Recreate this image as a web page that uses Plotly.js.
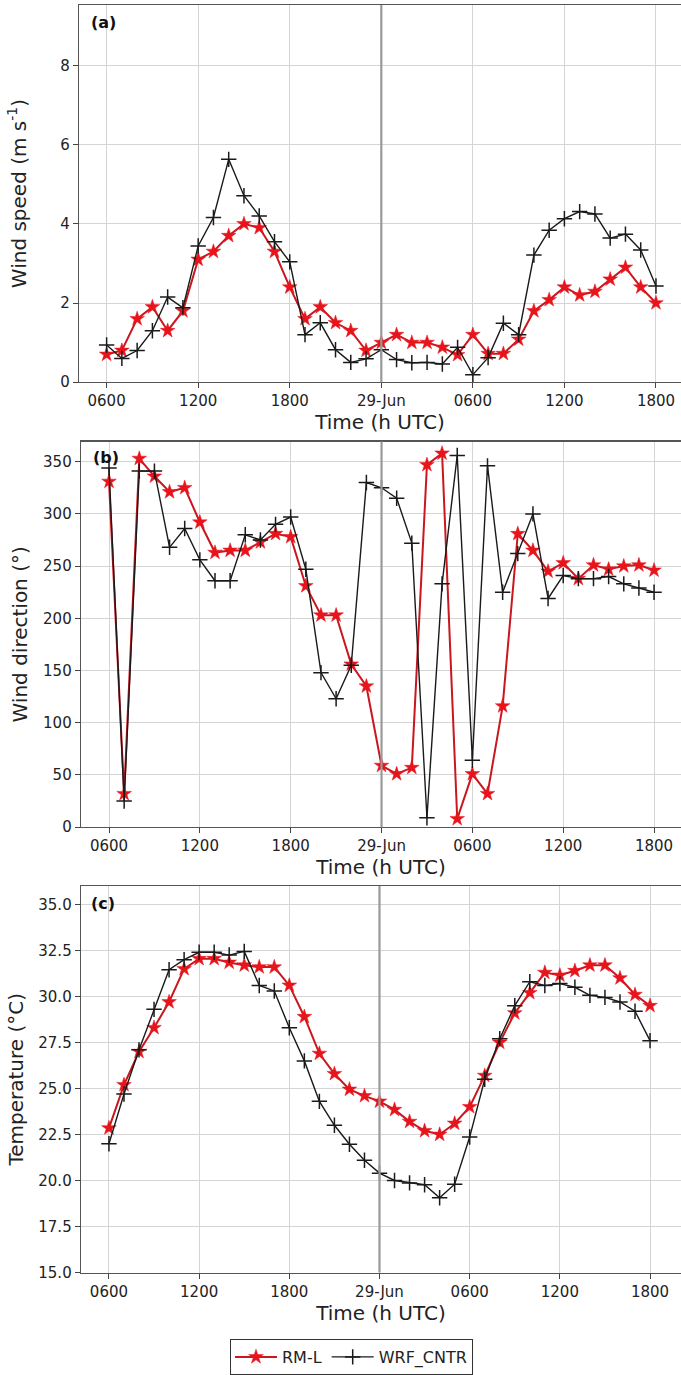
<!DOCTYPE html>
<html>
<head>
<meta charset="utf-8">
<script src="https://cdn.plot.ly/plotly-3.0.1.min.js"></script>
<style>html,body{margin:0;padding:0;background:#fff;}#chart{width:681px;height:1375px;}</style>
</head>
<body>
<div id="chart"></div>
<script>
// Hours since 28-Jun 00 UTC (hourly, 0600 28-Jun to 1800 29-Jun)
const hours = [6,7,8,9,10,11,12,13,14,15,16,17,18,19,20,21,22,23,24,25,26,27,28,29,30,31,32,33,34,35,36,37,38,39,40,41,42];
const tickVals = [6,12,18,24,30,36,42];
const tickText = ["0600","1200","1800","29-Jun","0600","1200","1800"];
const dayBoundary = 24;

// (a) Wind speed (m s-1)
const speedRML = [0.7,0.8,1.6,1.9,1.3,1.8,3.1,3.3,3.7,4.0,3.9,3.3,2.4,1.6,1.9,1.5,1.3,0.8,1.0,1.2,1.0,1.0,0.88,0.69,1.2,0.72,0.72,1.08,1.8,2.08,2.4,2.2,2.29,2.6,2.9,2.4,2.0];
const speedWRF = [0.94,0.6,0.8,1.3,2.15,1.88,3.44,4.16,5.63,4.71,4.2,3.55,3.04,1.2,1.5,0.82,0.5,0.59,0.82,0.57,0.49,0.5,0.46,0.88,0.19,0.62,1.49,1.2,3.21,3.84,4.13,4.31,4.25,3.64,3.74,3.34,2.43];

// (b) Wind direction (deg)
const dirRML = [331,32,353,336,321,325,292,263,265,265,273,281,278,231,203,203,156,135,59,51,57,347,358,8,51,32,116,281,265,245,253,238,251,247,250,251,246];
const dirWRF = [344,25,341,341,268,286,256,236,236,280,275,290,297,247,148,123,155,330,325,315,272,9,233,356,64,346,225,262,300,219,241,238,238,240,233,229,225];

// (c) Temperature (deg C)
const tempRML = [22.85,25.2,27.0,28.3,29.7,31.5,32.05,32.05,31.85,31.7,31.6,31.6,30.6,28.9,26.9,25.8,24.95,24.6,24.3,23.85,23.2,22.7,22.5,23.1,24.0,25.7,27.5,29.1,30.2,31.3,31.15,31.4,31.7,31.7,31.0,30.1,29.5];
const tempWRF = [22.0,24.7,27.1,29.3,31.45,32.0,32.4,32.4,32.25,32.45,30.6,30.3,28.3,26.5,24.3,23.0,21.97,21.1,20.4,20.0,19.87,19.77,19.06,19.8,22.36,25.5,27.7,29.5,30.8,30.6,30.7,30.5,30.06,29.95,29.7,29.2,27.6];

const names = ["RM-L","WRF_CNTR"];
const FONT = "DejaVu Sans, Liberation Sans, sans-serif";
const red = "#e8141c", redLine = "#c8171e", black = "#1a1a1a";

function pair(yR, yW, xa, ya, show){
  return [
    {x:hours, y:yR, xaxis:xa, yaxis:ya, name:names[0], type:"scatter", mode:"lines+markers", showlegend:show, legendgroup:"r",
     line:{color:redLine, width:2}, marker:{symbol:"star", size:11, color:red, line:{color:red, width:0.5}}},
    {x:hours, y:yW, xaxis:xa, yaxis:ya, name:names[1], type:"scatter", mode:"lines+markers", showlegend:show, legendgroup:"w",
     line:{color:black, width:1.4}, marker:{symbol:"cross-thin", size:11, color:black, line:{color:black, width:1.5}}}
  ];
}
const data = [].concat(pair(speedRML,speedWRF,"x","y",true), pair(dirRML,dirWRF,"x2","y2",false), pair(tempRML,tempWRF,"x3","y3",false));

const H = 1375, W = 681;
function py(p){ return 1 - p/H; }
function xax(domL, range){
  return {domain:[domL/W, 1], range:range, tickvals:tickVals, ticktext:tickText, showgrid:true, gridcolor:"#d4d4d4", gridwidth:1,
    zeroline:false, showline:true, mirror:true, linecolor:"#555", linewidth:1.3, ticks:"outside", ticklen:5, tickcolor:"#444",
    tickfont:{family:FONT, size:15, color:"#222"}, automargin:false,
    title:{text:"Time (h UTC)", font:{family:FONT, size:20, color:"#222"}, standoff:3}};
}
function yax(top, bot, range, dtick, fmt, title, standoff, anchor){
  return {domain:[py(bot), py(top)], range:range, dtick:dtick, tick0:range[0], tickformat:fmt, showgrid:true, gridcolor:"#d4d4d4", gridwidth:1,
    zeroline:false, showline:true, mirror:false, linecolor:"#555", linewidth:1.3, ticks:"outside", ticklen:5, tickcolor:"#444",
    tickfont:{family:FONT, size:15, color:"#222"}, automargin:false, anchor:anchor,
    title:{text:title, font:{family:FONT, size:20, color:"#222"}, standoff:standoff}};
}

const layout = {
  width:W, height:H, margin:{l:0,r:0,t:0,b:0}, paper_bgcolor:"#fff", plot_bgcolor:"#fff",
  font:{family:FONT, color:"#222"},
  xaxis: Object.assign(xax(79,[4.19,43.64]), {anchor:"y"}),
  yaxis: yax(5,383,[0,9.53],2,"d","Wind speed (m s<sup>-1</sup>)",28,"x"),
  xaxis2: Object.assign(xax(81,[4.15,43.78]), {anchor:"y2"}),
  yaxis2: yax(442.5,829,[0,369.3],50,"d","Wind direction (°)",10,"x2"),
  xaxis3: Object.assign(xax(81,[4.14,44.06]), {anchor:"y3"}),
  yaxis3: yax(888,1275.3,[15,36],2.5,".1f","Temperature (°C)",9,"x3"),
  showlegend:true,
  legend:{orientation:"h", x:230/W, xanchor:"left", y:py(1342), yanchor:"top", bordercolor:"#333", borderwidth:1,
    bgcolor:"#fff", font:{family:FONT, size:16, color:"#222"}, itemwidth:42, tracegroupgap:0},
  shapes:[
    {type:"line", xref:"x", yref:"y domain", x0:dayBoundary, x1:dayBoundary, y0:0, y1:1, line:{color:"#9a9a9a", width:2.2}},
    {type:"line", xref:"x2", yref:"y2 domain", x0:dayBoundary, x1:dayBoundary, y0:0, y1:1, line:{color:"#9a9a9a", width:2.2}},
    {type:"line", xref:"x3", yref:"y3 domain", x0:dayBoundary, x1:dayBoundary, y0:0, y1:1, line:{color:"#9a9a9a", width:2.2}}
  ],
  annotations:[
    {text:"<b>(a)</b>", xref:"paper", yref:"paper", x:103/W, y:py(23), xanchor:"center", yanchor:"middle", showarrow:false, font:{family:FONT, size:16, color:"#111"}},
    {text:"<b>(b)</b>", xref:"paper", yref:"paper", x:106/W, y:py(458), xanchor:"center", yanchor:"middle", showarrow:false, font:{family:FONT, size:16, color:"#111"}},
    {text:"<b>(c)</b>", xref:"paper", yref:"paper", x:103/W, y:py(905), xanchor:"center", yanchor:"middle", showarrow:false, font:{family:FONT, size:16, color:"#111"}}
  ]
};
Plotly.newPlot("chart", data, layout, {displayModeBar:false, staticPlot:true});
</script>
</body>
</html>
